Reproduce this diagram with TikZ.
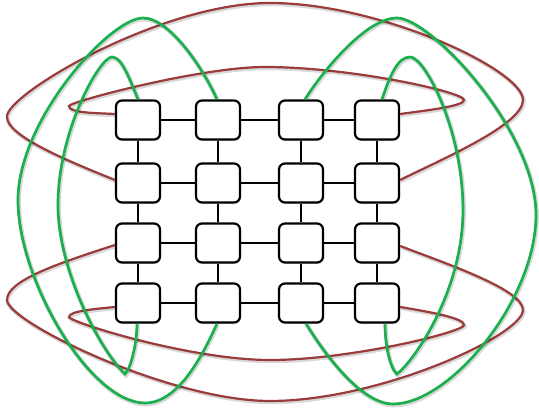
\documentclass[tikz,border=0pt]{standalone}
\usetikzlibrary{calc,shadows}
\definecolor{cred}{HTML}{9B3B3B}
\definecolor{cgreen}{HTML}{1BB04E}
\begin{document}
\begin{tikzpicture}[x=1pt,y=-1pt,
  cell/.style={draw=black, line width=2.2pt, fill=white, rounded corners=6pt,
    minimum width=44pt, minimum height=39pt, inner sep=0pt,
    drop shadow={opacity=0.25, shadow xshift=1pt, shadow yshift=-1.5pt}},
  link/.style={draw=black, line width=2.2pt},
  redwire/.style={draw=cred, line width=2.2pt,
    preaction={draw=black, opacity=0.15, line width=4pt, transform canvas={xshift=0.8pt,yshift=-1.2pt}}},
  greenwire/.style={draw=cgreen, line width=2.7pt,
    preaction={draw=black, opacity=0.15, line width=4.4pt, transform canvas={xshift=0.8pt,yshift=-1.2pt}}}]
\useasboundingbox (0,0) rectangle (539,412);
% grid nodes
\foreach \c/\x in {1/138,2/218,3/301,4/377}{
  \foreach \r/\y in {1/120,2/183,3/243,4/303}{
    \node[cell] (n\r\c) at (\x,\y) {};
  }
}
% grid links
\foreach \r in {1,2,3,4}{
  \draw[link] (n\r1) -- (n\r2);
  \draw[link] (n\r2) -- (n\r3);
  \draw[link] (n\r3) -- (n\r4);
}
\foreach \c in {1,2,3,4}{
  \draw[link] (n1\c) -- (n2\c);
  \draw[link] (n2\c) -- (n3\c);
  \draw[link] (n3\c) -- (n4\c);
}
% red wires
\draw[redwire] ($(n21.west)+(0,-3)$) .. controls (60,158) and (7,135) .. (7,117)
  .. controls (5,95) and (160,3) .. (270,3)
  .. controls (380,3) and (523,70) .. (523,100)
  .. controls (523,125) and (440,160) .. ($(n24.east)+(0,-3)$);
\draw[redwire] ($(n11.west)+(0,-6)$) .. controls (95,113) and (69,113) .. (69,106)
  .. controls (69,102) and (200,67) .. (265,67)
  .. controls (350,67) and (464,92) .. (464,100)
  .. controls (464,106) and (430,110) .. ($(n14.east)+(0,-6)$);
\draw[redwire] ($(n41.west)+(0,4)$) .. controls (95,309) and (69,311) .. (69,317)
  .. controls (69,322) and (190,360) .. (270,360)
  .. controls (350,360) and (464,332) .. (464,325)
  .. controls (464,318) and (430,312) .. ($(n44.east)+(0,4)$);
\draw[redwire] ($(n31.west)+(0,2)$) .. controls (60,263) and (7,280) .. (7,300)
  .. controls (7,322) and (170,401) .. (270,401)
  .. controls (380,401) and (523,335) .. (523,310)
  .. controls (523,290) and (450,265) .. ($(n34.east)+(0,3)$);
% green wires
\draw[greenwire] ($(n12.north)+(-1,0)$) .. controls (204,70) and (170,18) .. (143,18)
  .. controls (110,18) and (18,120) .. (18,200)
  .. controls (18,280) and (90,403) .. (145,403)
  .. controls (180,403) and (205,350) .. ($(n42.south)+(-1,0)$);
\draw[greenwire] (n11.north) .. controls (130,80) and (122,57) .. (112,57)
  .. controls (100,57) and (58,130) .. (58,205)
  .. controls (58,270) and (100,350) .. (125,374)
  .. controls (130,370) and (137,345) .. ($(n41.south)+(-1,0)$);
\draw[greenwire] ($(n13.north)+(4,0)$) .. controls (320,75) and (365,18) .. (397,18)
  .. controls (430,18) and (536,130) .. (536,215)
  .. controls (536,300) and (450,404) .. (393,404)
  .. controls (360,404) and (322,350) .. ($(n43.south)+(5,0)$);
\draw[greenwire] ($(n14.north)+(5,0)$) .. controls (390,75) and (398,57) .. (410,57)
  .. controls (425,57) and (463,130) .. (463,210)
  .. controls (463,290) and (415,360) .. (397,374)
  .. controls (390,368) and (385,345) .. ($(n44.south)+(8,0)$);
\end{tikzpicture}
\end{document}
